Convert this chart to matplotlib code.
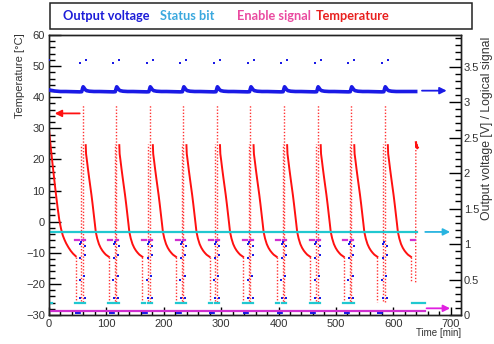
import matplotlib
matplotlib.use('Agg')
import matplotlib.pyplot as plt
from matplotlib.patches import Rectangle
from matplotlib.ticker import MultipleLocator, FuncFormatter

# ---------------- data ----------------
# heater spike times [min]
spike_times = [58.5, 117.0, 175.5, 234.0, 292.5, 351.0, 409.5, 468.0, 526.5, 585.0]

# first cooling curve, starting at t = 0
first_decay_t = [0, 3, 6, 9, 12, 15, 18, 21, 24, 27, 30, 34, 38, 42, 46.6]
first_decay_T = [29.5, 24.0, 18.8, 13.8, 9.0, 4.5, 0.5, -2.3, -4.4, -5.8, -7.0, -8.3, -9.4, -10.3, -11.1]

# cooling curve after each spike (time relative to the spike)
decay_dt = [5.5, 6.1, 7.5, 9.5, 11.5, 13.5, 15.5, 17.5, 19.5, 21.5, 23.0, 25.5,
            28.5, 31.5, 34.5, 37.5, 40.5, 43.5, 45.8]
decay_T = [24.6, 21.8, 19.8, 16.8, 14.0, 11.3, 8.6, 5.6, 2.4, -0.8, -3.3, -5.4,
           -7.2, -8.4, -9.3, -10.0, -10.6, -11.0, -11.3]

# fast transitions (dotted columns)
drop_T = [-11.3, -25.8]          # at end of each cooling
pre_col_dt = -2.5
pre_col_T = [-25.5, 25.0]
spike_col_T = [-25.8, 37.5]

# final part of the run
final_drop_t = [631.5, 631.5]
final_drop_T = [-11.3, -19.5]
final_rise_t = [639.0, 639.3]
final_rise_T = [-19.5, 25.5]
final_tail_t = [639.5, 640.3, 641.0, 641.8, 642.5]
final_tail_T = [25.5, 24.0, 24.6, 23.6, 23.8]

# output voltage [V] (main trace), one period around each spike
volt_dt = [-29.0, -15.0, -5.0, -1.5, 0.0, 1.0, 2.5, 4.5, 7.0, 12.0, 20.0]
volt_V = [3.148, 3.145, 3.143, 3.145, 3.19, 3.215, 3.20, 3.175, 3.16, 3.152, 3.148]
volt_start_t = [0, 10, 20]
volt_start_V = [3.17, 3.155, 3.148]
volt_end_t = 639.0
volt_end_V = 3.148

# sparse output-voltage samples around each spike
vtop_dt = [-5.0, 5.5]
vtop_V = [3.55, 3.59]
vlow_dt = [-3.8, 4.3, 3.8, -3.8, 2.6, -5.0, -3.8, 3.8, -2.0]
vlow_V = [1.00, 0.97, 0.845, 0.80, 0.55, 0.49, 0.235, 0.235, 1.03]
vbot_dt = [-13.0, 0.5]
vbot_V = 0.025

# status bit [V]
status_high = 1.17
status_end = 641.0
status_low = 0.17
status_low_dt = [(-13.5, -8.0), (-3.7, 4.3)]
status_low_final = (632.0, 655.6)

# enable signal [V]
enable_low = 0.06
enable_end = 655.6
enable_high = 1.06
enable_high_dt = [(-13.5, -6.5), (-1.0, 3.8)]
enable_high_final = (631.0, 638.0)

# ---------------- style ----------------
RED = '#ff1010'
BLUE = '#1a1ae6'
CYAN = '#20c8d0'
MAG = '#d030d0'
TXT = '#333333'
FONT = 'Liberation Sans'

fig = plt.figure(figsize=(4.94, 3.44), dpi=100)
L, R, T, B = 49, 461, 35, 315
ax = fig.add_axes([L/494, 1 - B/344, (R - L)/494, (B - T)/344])
ax2 = ax.twinx()

ax.set_xlim(0, 718)
ax.set_ylim(-30, 60)
ax2.set_ylim(0, 3.944)

dot_ls = (0, (1, 1.3))

# temperature
ax.plot(first_decay_t, first_decay_T, color=RED, lw=1.4, zorder=3)
ax.plot([first_decay_t[-1]] * 2, drop_T, color=RED, lw=1.0, ls=dot_ls, alpha=0.85, zorder=3)
for i, t0 in enumerate(spike_times):
    ax.plot([t0 + pre_col_dt] * 2, pre_col_T, color=RED, lw=1.0, ls=dot_ls, alpha=0.85, zorder=3)
    ax.plot([t0, t0], spike_col_T, color=RED, lw=1.0, ls=dot_ls, alpha=0.85, zorder=3)
    ax.plot([t0 + d for d in decay_dt], decay_T, color=RED, lw=1.4, zorder=3)
    if i < len(spike_times) - 1:
        te = t0 + decay_dt[-1]
        ax.plot([te, te], drop_T, color=RED, lw=1.0, ls=dot_ls, alpha=0.85, zorder=3)
ax.plot(final_drop_t, final_drop_T, color=RED, lw=1.0, ls=dot_ls, alpha=0.85, zorder=3)
ax.plot(final_rise_t, final_rise_T, color=RED, lw=1.0, ls=dot_ls, alpha=0.85, zorder=3)
ax.plot(final_tail_t, final_tail_T, color=RED, lw=1.6, zorder=3)

# output voltage main trace
vt = list(volt_start_t)
vv = list(volt_start_V)
for t0 in spike_times:
    for d, v in zip(volt_dt, volt_V):
        vt.append(t0 + d)
        vv.append(v)
vt.append(volt_end_t)
vv.append(volt_end_V)
ax2.plot(vt, vv, color=BLUE, lw=2.6, zorder=4)

# sparse voltage dots
tops_t, tops_v, lows_t, lows_v = [0.3], [3.59], [], []
for t0 in spike_times:
    tops_t += [t0 + d for d in vtop_dt]
    tops_v += vtop_V
    lows_t += [t0 + d for d in vlow_dt]
    lows_v += vlow_V
    ax2.plot([t0 + vbot_dt[0], t0 + vbot_dt[1]], [vbot_V] * 2, color=BLUE, lw=1.4,
             ls=(0, (3, 2)), zorder=4)
ax2.plot(tops_t, tops_v, 's', color=BLUE, ms=1.6, mew=0, zorder=4)
ax2.plot(lows_t, lows_v, 's', color=BLUE, ms=1.8, mew=0, zorder=4)

# status bit
ax2.plot([0, status_end], [status_high] * 2, color=CYAN, lw=1.6, zorder=2)
ax2.plot([0, 5], [status_low] * 2, color=CYAN, lw=1.6, zorder=2)
for t0 in spike_times[:-1]:
    for a, b in status_low_dt:
        ax2.plot([t0 + a, t0 + b], [status_low] * 2, color=CYAN, lw=1.6, zorder=2)
ax2.plot(list(status_low_final), [status_low] * 2, color=CYAN, lw=1.6, zorder=2)

# enable signal
ax2.plot([0, enable_end], [enable_low] * 2, color=MAG, lw=1.6, zorder=2)
for t0 in spike_times[:-1]:
    for a, b in enable_high_dt:
        ax2.plot([t0 + a, t0 + b], [enable_high] * 2, color=MAG, lw=1.6, zorder=2)
ax2.plot(list(enable_high_final), [enable_high] * 2, color=MAG, lw=1.6, zorder=2)

# arrows
def arrow(axis, x0, x1, y, color):
    axis.annotate('', xy=(x1, y), xytext=(x0, y),
                  arrowprops=dict(arrowstyle='-|>', color=color, lw=1.3,
                                  mutation_scale=10, shrinkA=0, shrinkB=0),
                  annotation_clip=False, zorder=6)

arrow(ax, 53.5, 10, 34.8, RED)
arrow(ax2, 650, 693, 3.16, BLUE)
arrow(ax2, 655.7, 699, 1.17, '#28b4e0')
arrow(ax2, 658, 699, 0.094, '#e020e0')

# axes styling
for a in (ax, ax2):
    for s in a.spines.values():
        s.set_color('#222222')
        s.set_linewidth(1.0)

ax.xaxis.set_major_locator(MultipleLocator(100))
ax.xaxis.set_minor_locator(MultipleLocator(20))
ax.yaxis.set_major_locator(MultipleLocator(10))
ax.yaxis.set_minor_locator(MultipleLocator(2))
ax2.yaxis.set_major_locator(MultipleLocator(0.5))
ax2.yaxis.set_minor_locator(MultipleLocator(0.1))
ax2.yaxis.set_major_formatter(FuncFormatter(lambda v, p: f'{v:g}'))

ax.tick_params(axis='x', which='major', direction='in', length=5.8, width=1.0,
               pad=3, labelsize=8, labelcolor=TXT, top=False)
ax.tick_params(axis='x', which='minor', direction='in', length=3.0, width=1.0, top=False)
ax.tick_params(axis='y', which='major', direction='in', length=8.6, width=1.0,
               pad=3, labelsize=8, labelcolor=TXT, right=False)
ax.tick_params(axis='y', which='minor', direction='in', length=4.0, width=1.0, right=False)
ax2.tick_params(axis='y', which='major', direction='in', length=8.6, width=1.0,
                pad=2, labelsize=8, labelcolor=TXT, left=False)
ax2.tick_params(axis='y', which='minor', direction='in', length=4.0, width=1.0, left=False)
for lab in ax.get_xticklabels() + ax.get_yticklabels() + ax2.get_yticklabels():
    lab.set_fontfamily(FONT)

# axis titles
fig.text(20/494, 1 - 33/344, 'Temperature [°C]', rotation=90, ha='center', va='top',
         fontsize=8, color=TXT, family=FONT)
fig.text(480.5/494, 1 - 37/344, 'Output voltage [V] / Logical signal', rotation=90,
         ha='left', va='top', fontsize=8.8, color=TXT, family=FONT)
fig.text(461/494, 1 - 333/344, 'Time [min]', ha='right', va='center',
         fontsize=7, color=TXT, family=FONT)

# legend box
fig.patches.append(Rectangle((50/494, 1 - 29/344), 422/494, 26/344,
                             transform=fig.transFigure, facecolor='white',
                             edgecolor='#222222', lw=1.1))
ly = 1 - 16.5/344
for x, s, c in [(63, 'Output voltage', '#1c1cd8'), (160, 'Status bit', '#3aa8de'),
                (237, 'Enable signal', '#ea4aa0'), (316, 'Temperature', '#e8201e')]:
    fig.text(x/494, ly, s, ha='left', va='center', fontsize=9.2, fontweight='bold',
             color=c, family=['Lato', 'DejaVu Sans'])

fig.savefig('out.png', dpi=100)
